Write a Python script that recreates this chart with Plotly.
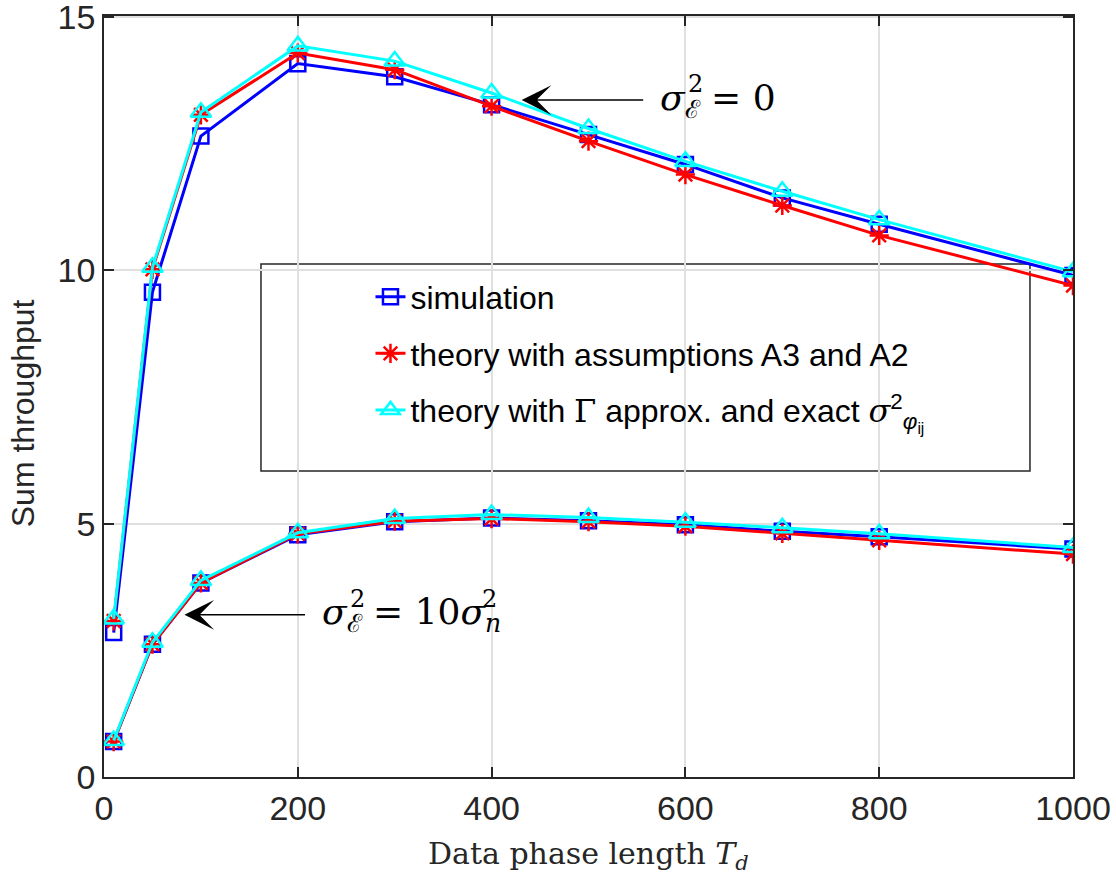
import plotly.graph_objects as go

# ---------------- data ----------------
td = [10, 50, 100, 200, 300, 400, 500, 600, 700, 800, 1000]

# sigma_E^2 = 0 (upper curves)
sim_upper = [2.85, 9.57, 12.65, 14.08, 13.82, 13.27, 12.68, 12.09, 11.43, 10.91, 9.90]
a3a2_upper = [3.08, 10.02, 13.07, 14.29, 13.96, 13.24, 12.55, 11.89, 11.28, 10.69, 9.70]
gamma_upper = [3.12, 10.06, 13.12, 14.43, 14.13, 13.50, 12.80, 12.15, 11.56, 11.00, 9.97]

# sigma_E^2 = 10 sigma_n^2 (lower curves)
sim_lower = [0.70, 2.62, 3.83, 4.78, 5.04, 5.11, 5.06, 4.98, 4.85, 4.74, 4.50]
a3a2_lower = [0.70, 2.62, 3.83, 4.80, 5.05, 5.10, 5.04, 4.95, 4.81, 4.67, 4.40]
gamma_lower = [0.72, 2.66, 3.88, 4.82, 5.10, 5.18, 5.12, 5.03, 4.92, 4.80, 4.53]

x_ticks = [0, 200, 400, 600, 800, 1000]
y_ticks = [0, 5, 10, 15]

names = [
    "simulation",
    "theory with assumptions A3 and A2",
    "theory with <span style='font-family:DejaVu Serif'>Γ</span> approx. and exact "
    "<span style='font-family:DejaVu Serif'><i>σ</i></span><sup>2</sup><sub><i>φ</i><sub>ij</sub></sub>",
]

SANS = "Liberation Sans, Arial, sans-serif"
SERIF = "DejaVu Serif, serif"
AX = "#262626"

series = [
    (sim_upper, sim_lower, "#0000FF", "square-open", 15, names[0]),
    (a3a2_upper, a3a2_lower, "#FF0000", "asterisk-open", 16, names[1]),
    (gamma_upper, gamma_lower, "#00FFFF", "triangle-up-open", 18, names[2]),
]

fig = go.Figure()
for i, (up, lo, col, sym, sz, nm) in enumerate(series):
    for j, ys in enumerate([up, lo]):
        fig.add_trace(go.Scatter(
            x=td, y=ys, mode="lines+markers", name=nm,
            legendgroup=f"g{i}", showlegend=(j == 0),
            line=dict(color=col, width=3),
            marker=dict(symbol=sym, size=sz, color=col,
                        line=dict(color=col, width=2.5)),
        ))

axis_common = dict(
    showline=True, linecolor=AX, linewidth=1.5, mirror="ticks",
    ticks="inside", ticklen=10, tickwidth=1.5, tickcolor=AX,
    showgrid=True, gridcolor="#E0E0E0", gridwidth=1.5,
    zeroline=False, automargin=False, ticklabeloverflow="allow",
    tickfont=dict(family=SANS, size=34, color=AX),
)

fig.update_xaxes(range=[0, 1000], tickvals=x_ticks, **axis_common)
fig.update_yaxes(range=[0, 15.02], tickvals=y_ticks, **axis_common)

fig.update_layout(
    width=1116, height=878,
    margin=dict(l=104, r=43, t=16, b=101),
    plot_bgcolor="white", paper_bgcolor="white",
    showlegend=True,
    legend=dict(
        x=0.275, y=0.667, xanchor="left", yanchor="top",
        bgcolor="rgba(0,0,0,0)", borderwidth=0,
        font=dict(family=SANS, size=32, color="black"),
        traceorder="grouped", tracegroupgap=12,
        itemsizing="trace",
    ),
    shapes=[
        dict(type="rect", xref="paper", yref="paper",
             x0=0.162, x1=0.9556, y0=0.402, y1=0.674,
             line=dict(color=AX, width=1.5), fillcolor="white", layer="below"),
    ],
)

annotations = []
# x-axis title
annotations.append(dict(
    xref="paper", yref="paper", x=0.5, y=-0.103, xanchor="center", yanchor="middle",
    text="Data phase length <i>T</i><sub><i>d</i></sub>", showarrow=False,
    font=dict(family=SERIF, size=30, color=AX)))
# y-axis title
annotations.append(dict(
    xref="paper", yref="paper", x=-0.0836, y=0.478, xanchor="center", yanchor="middle",
    text="Sum throughput", textangle=-90, showarrow=False,
    font=dict(family=SANS, size=32, color=AX)))

# upper label + arrow
annotations.append(dict(x=431, y=13.36, ax=558, ay=13.36, axref="x", ayref="y",
                        xref="x", yref="y", text="", showarrow=True,
                        arrowhead=3, arrowsize=3.3, arrowwidth=1.5, arrowcolor="black"))
annotations.append(dict(x=572, y=13.36, xref="x", yref="y", xanchor="left", yanchor="middle",
                        text="<i>σ</i><sub>ℰ</sub> = 0", showarrow=False,
                        font=dict(family=SERIF, size=36, color="black")))
annotations.append(dict(x=572, y=13.36, xref="x", yref="y", xanchor="left", yanchor="middle",
                        xshift=28, yshift=16, text="2", showarrow=False,
                        font=dict(family=SERIF, size=24, color="black")))

# lower label + arrow
annotations.append(dict(x=83, y=3.2, ax=209, ay=3.2, axref="x", ayref="y",
                        xref="x", yref="y", text="", showarrow=True,
                        arrowhead=3, arrowsize=3.3, arrowwidth=1.5, arrowcolor="black"))
annotations.append(dict(x=223, y=3.2, xref="x", yref="y", xanchor="left", yanchor="middle",
                        text="<i>σ</i><sub>ℰ</sub> = 10<i>σ</i><sub><i>n</i></sub>", showarrow=False,
                        font=dict(family=SERIF, size=36, color="black")))
annotations.append(dict(x=223, y=3.2, xref="x", yref="y", xanchor="left", yanchor="middle",
                        xshift=28, yshift=16, text="2", showarrow=False,
                        font=dict(family=SERIF, size=24, color="black")))
annotations.append(dict(x=223, y=3.2, xref="x", yref="y", xanchor="left", yanchor="middle",
                        xshift=160, yshift=16, text="2", showarrow=False,
                        font=dict(family=SERIF, size=24, color="black")))
fig.update_layout(annotations=annotations)

fig.write_html("out.html")
